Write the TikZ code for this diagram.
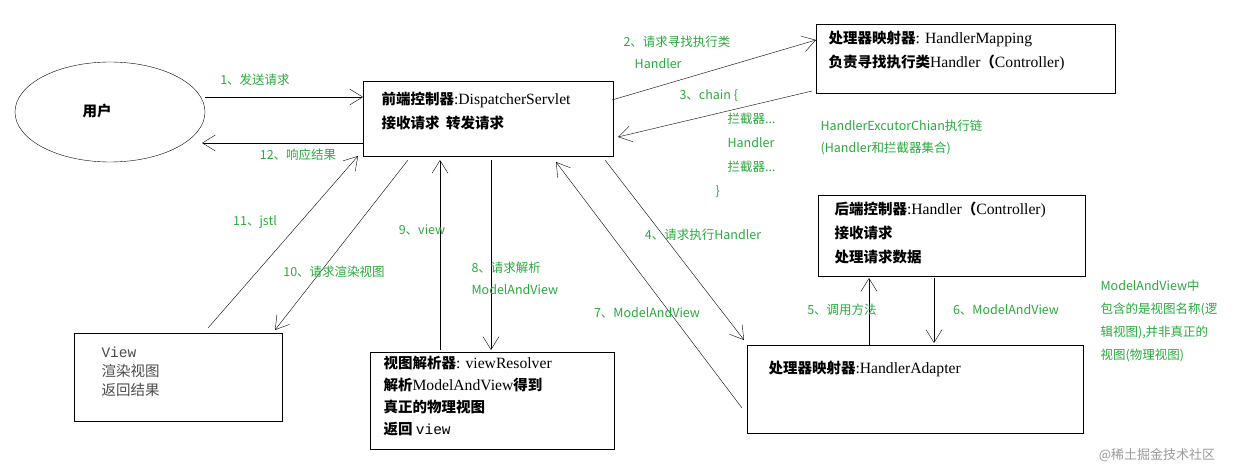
\documentclass[tikz,border=0pt]{standalone}
\usepackage{fontspec}
\setmainfont{Noto Sans CJK SC}
\newfontfamily\lat[Scale=1.08]{Liberation Serif}
\newfontfamily\mono{Liberation Mono}
\usetikzlibrary{arrows.meta,shapes.geometric}
\definecolor{lblgreen}{RGB}{40,170,60}
\tikzset{
  box/.style={draw, thin, rectangle, anchor=north west, inner sep=0pt},
  boxtext/.style={anchor=north west, align=left, font=\fontsize{14.5}{24}\selectfont\bfseries},
  lbl/.style={text=lblgreen, align=left, font=\fontsize{12.5}{22}\selectfont},
  flow/.style={-{Straight Barb[length=13pt,width=16pt]}, thin}
}
\begin{document}
\begin{tikzpicture}[x=1pt, y=-1pt]
\useasboundingbox (0,0) rectangle (1240,473);

% boxes
\node [draw, thin, ellipse, minimum width=190pt, minimum height=100pt] (user) at (110,112) {};
\node [font=\fontsize{14.5}{15}\selectfont\bfseries] at (97,111) {用户};

\node [box, minimum width=250pt, minimum height=75pt] (ds) at (363,81) {};
\node [boxtext] at (378,88) {前端控制器{\lat\mdseries :DispatcherServlet}\\接收请求\ \ 转发请求};

\node [box, minimum width=299pt, minimum height=69pt] (hm) at (816,24) {};
\node [boxtext] at (825,28) {处理器映射器{\lat\mdseries : HandlerMapping}\\负责寻找执行类{\lat\mdseries Handler}（{\lat\mdseries Controller)}};

\node [box, minimum width=267pt, minimum height=81pt] (ctl) at (818,195) {};
\node [boxtext] at (831,198) {后端控制器{\lat\mdseries :Handler}（{\lat\mdseries Controller)}\\接收请求\\处理请求数据};

\node [box, minimum width=336pt, minimum height=88pt] (ha) at (747,345) {};
\node [boxtext] at (765,358) {处理器映射器{\lat\mdseries :HandlerAdapter}};

\node [box, minimum width=244pt, minimum height=97pt] (vr) at (370,352) {};
\node [boxtext, font=\fontsize{14.5}{22}\selectfont\bfseries] at (380,353) {视图解析器{\lat\mdseries : viewResolver}\\解析{\lat\mdseries ModelAndView}得到\\真正的物理视图\\返回 {\mono\mdseries view}};

\node [box, minimum width=208pt, minimum height=88pt] (vw) at (74,333) {};
\node [boxtext, text=black!70, font=\fontsize{14.5}{19}\selectfont] at (98,343) {{\mono View}\\渲染视图\\返回结果};

% connectors
\draw [flow] (user.east |- 0,97) -- (ds.west |- 0,97);
\draw [flow] (ds.west |- 0,143) -- (202,143);
\draw [flow] (612,100) -- (hm.west |- 0,40);
\draw [flow] (812,91) -- (618,137);
\draw [flow] (605,160) -- (744,340);
\draw [flow] (869,345) -- (869,278);
\draw [flow] (934,278) -- (934,343);
\draw [flow] (742,408) -- (556,162);
\draw [flow] (491,160) -- (491,350);
\draw [flow] (440,350) -- (440,160);
\draw [flow] (408,160) -- (275,330);
\draw [flow] (208,328) -- (358,156);

% labels
\node [lbl] at (255,80) {1、发送请求};
\node [lbl] at (298,155) {12、响应结果};
\node [lbl, anchor=west] at (620,52) {2、请求寻找执行类\\\ \ \ \ Handler};
\node [lbl, anchor=north west, font=\fontsize{12.5}{24}\selectfont] at (676,86) {3、chain \{\\\hspace{48pt}拦截器...\\\hspace{48pt}Handler\\\hspace{48pt}拦截器...\\\hspace{36pt}\}};
\node [lbl, anchor=west] at (817,137) {HandlerExcutorChian执行链\\(Handler和拦截器集合)};
\node [lbl] at (703,235) {4、请求执行Handler};
\node [lbl] at (842,310) {5、调用方法};
\node [lbl] at (1006,310) {6、ModelAndView};
\node [lbl] at (647,313) {7、ModelAndView};
\node [lbl, anchor=west] at (468,278) {8、请求解析\\ModelAndView};
\node [lbl] at (422,230) {9、view};
\node [lbl] at (334,272) {10、请求渲染视图};
\node [lbl] at (255,222) {11、jstl};
\node [lbl, anchor=north west, font=\fontsize{12.5}{23}\selectfont] at (1097,276) {ModelAndView中\\包含的是视图名称(逻\\辑视图),并非真正的\\视图(物理视图)};
\node [text=black!40, font=\fontsize{13}{14}\selectfont] at (1157,455) {@稀土掘金技术社区};
\end{tikzpicture}
\end{document}
